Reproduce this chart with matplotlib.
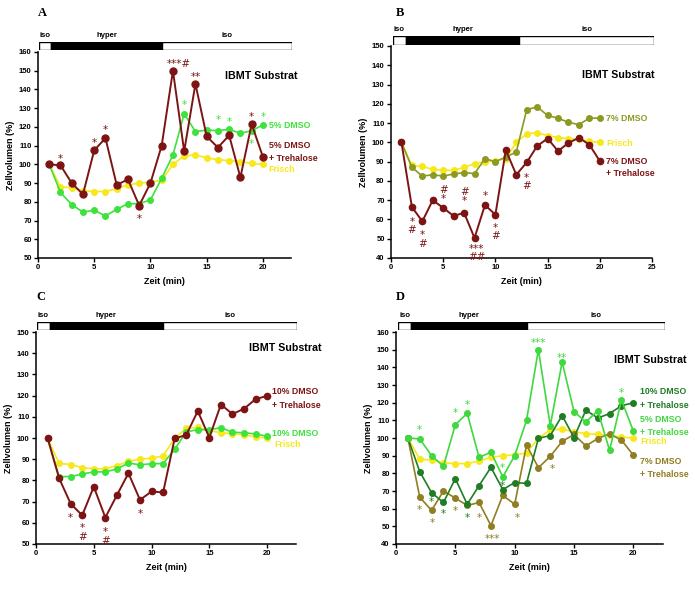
import numpy as np
import matplotlib
matplotlib.use("Agg")
import matplotlib.pyplot as plt
from matplotlib.patches import Rectangle

plt.rcParams["font.family"] = ["Liberation Sans", "DejaVu Sans"]
plt.rcParams["font.weight"] = "bold"

W, H = 695, 594

# --- data (Zellvolumen in % of start, per minute) ---
zeit = np.arange(1, 21)
frisch = [100, 88, 87.5, 86, 85.5, 85.5, 87, 89, 90, 90.5,
          91.5, 100, 104.5, 105, 103.5, 102.5, 102, 101.5, 100.5, 100]
dmso5 = [100, 85, 78.5, 74.5, 75.5, 72.5, 76, 79, 79, 81,
         92.5, 105, 127, 117.5, 118.3, 118, 118.7, 116.6, 118, 121]
dmso5_treh = [100, 99.5, 90, 84, 107.5, 114, 89, 92, 78, 90,
              110, 150, 107, 143, 115, 109, 115.5, 93, 121.5, 104]
dmso7 = [100, 87, 82.5, 83.2, 82.5, 83.6, 84.3, 83.8, 91.5, 90,
         92.4, 95, 117, 118.4, 114, 112.5, 110.4, 109.2, 112.6, 112.6]
dmso7_treh = [100, 66.5, 59, 70, 66, 61.8, 63.5, 50.4, 67.5, 62.5,
              96, 83.2, 89.6, 98.1, 102, 95.5, 99.7, 102.4, 98.8, 90.3]
dmso10 = [100, 81.8, 81.8, 83, 84, 84, 85.4, 88.2, 87.3, 87.9,
          87.9, 94.7, 102.8, 104, 103.8, 104.9, 102.7, 102.5, 101.9, 100.8]
dmso10_treh = [100, 81, 69, 63.5, 77, 62.5, 73, 83.4, 70.8, 74.8,
               74.3, 99.8, 101.4, 112.7, 100.2, 115.8, 111.3, 113.8, 118.3, 119.9]

# phases of the medium (min)
phase_edges = [0, 1.1, 10.9, 22.5]
phase_names = ["iso", "hyper", "iso"]

# significance marks: (x, y, text)
stars_a_red = [(2, 104, "*"), (5, 112.5, "*"), (6, 119.5, "*"), (9, 72, "*"),
               (12.5, 154.5, "***#"), (14, 147.5, "**"), (19, 126.5, "*")]
stars_a_green = [(13, 132.5, "*"), (16, 124.5, "*"), (17, 123.5, "*"),
                 (19, 112, "*"), (20, 126.5, "*")]
stars_b_red = [(2, 57.5, "*\n#"), (3, 50.5, "*\n#"), (5, 74, "#\n*"),
               (7, 73, "#\n*"), (8.2, 43.5, "***\n##"), (9, 73, "*"),
               (10, 54.5, "*\n#"), (13, 80.5, "*\n#")]
stars_c_red = [(3, 63.5, "*"), (4, 56.5, "*\n#"), (6, 54.5, "*\n#"),
               (9, 65, "*")]
stars_d_light = [(2, 105.5, "*"), (5, 115, "*"), (6, 119.5, "*"), (9, 84, "*"),
                 (12, 154.5, "***"), (14, 146.5, "**"), (19, 126.5, "*")]
stars_d_dark = [(3, 65, "*"), (4, 58, "*"), (6, 56, "*"), (9, 74, "*")]
stars_d_olive = [(2, 60.5, "*"), (3.1, 53, "*"), (5, 59.5, "*"), (7, 56, "*"),
                 (8.1, 44, "***"), (10.2, 56, "*"), (13.2, 83.5, "*")]

RED = "#7d1414"
GREEN = "#3de23d"
LGREEN = "#3fd83f"
DGREEN = "#1f7d24"
YELLOW = "#f7e81c"
OLIVE = "#8c9a22"
OLIVE_D = "#8f7f22"

fig = plt.figure(figsize=(W / 100, H / 100), dpi=100)


def box(x0, y0, x1, y1):
    return [x0 / W, 1 - y1 / H, (x1 - x0) / W, (y1 - y0) / H]


def make_panel(rect, bar_rect, letter, letter_xy, ylim, yticks, xlim, xticks):
    ax = fig.add_axes(box(*rect))
    ax.set_xlim(*xlim)
    ax.set_ylim(*ylim)
    ax.set_yticks(yticks)
    ax.set_xticks(xticks)
    for s in ["top", "right"]:
        ax.spines[s].set_visible(False)
    for s in ["left", "bottom"]:
        ax.spines[s].set_linewidth(1.1)
    ax.tick_params(length=3, width=1, labelsize=5.5, pad=1.5)
    for lab in ax.get_xticklabels() + ax.get_yticklabels():
        lab.set_fontweight("bold")
    ax.set_xlabel("Zeit (min)", fontsize=6.5, fontweight="bold", labelpad=4)
    ax.set_ylabel("Zellvolumen (%)", fontsize=6.5, fontweight="bold", labelpad=3)

    bar = fig.add_axes(box(*bar_rect))
    bar.set_xlim(0, 22.5)
    bar.set_ylim(0, 1)
    bar.axis("off")
    for i, name in enumerate(phase_names):
        a, b = phase_edges[i], phase_edges[i + 1]
        bar.add_patch(Rectangle((a, 0), b - a, 1,
                                facecolor="black" if name == "hyper" else "white",
                                edgecolor="black", lw=1))
        bar.text((a + b) / 2 if name != "iso" or i else 0.55, 1.35, name,
                 ha="center", va="bottom", fontsize=5.5, fontweight="bold")
    fig.text(letter_xy[0] / W, 1 - letter_xy[1] / H, letter,
             family="Liberation Serif", fontsize=9, fontweight="bold",
             ha="left", va="center")
    return ax


def series(ax, y, color, ms, lw, z):
    ax.plot(zeit, y, color=color, marker="o", ms=ms, lw=lw, zorder=z,
            clip_on=False)


def marks(ax, items, color, size=7.5):
    for x, y, t in items:
        ax.text(x, y - 1, t, color=color, ha="center", va="center",
                fontsize=size, fontweight="normal", family="DejaVu Sans",
                linespacing=0.8)


def label(ax, x, y, t, color, size=6.3):
    ax.text(x, y, t, color=color, ha="left", va="center", fontsize=size,
            fontweight="bold", clip_on=False)


# ---------- A ----------
ax = make_panel((38, 52, 291, 258), (39, 42, 292, 50), "A", (38, 13),
                (50, 160), range(50, 161, 10), (0, 22.5), range(0, 21, 5))
series(ax, frisch, YELLOW, 4, 1.2, 2)
series(ax, dmso5, GREEN, 4, 1.2, 3)
series(ax, dmso5_treh, RED, 5, 1.4, 4)
marks(ax, stars_a_red, RED)
marks(ax, stars_a_green, GREEN)
ax.text(16.6, 147, "IBMT Substrat", fontsize=7.7, fontweight="bold", va="center")
label(ax, 20.5, 121, "5% DMSO", GREEN)
label(ax, 20.5, 110, "5% DMSO", RED)
label(ax, 20.5, 103.2, "+ Trehalose", RED)
label(ax, 20.5, 97.5, "Frisch", YELLOW)

# ---------- B ----------
ax = make_panel((391, 46, 652, 258), (393, 36, 654, 45), "B", (396, 13),
                (40, 150), range(40, 151, 10), (0, 25), range(0, 26, 5))
series(ax, frisch, YELLOW, 4, 1.2, 2)
series(ax, dmso7, OLIVE, 4, 1.2, 3)
series(ax, dmso7_treh, RED, 4.5, 1.4, 4)
marks(ax, stars_b_red, RED)
ax.text(18.3, 135, "IBMT Substrat", fontsize=7.7, fontweight="bold", va="center")
label(ax, 20.6, 112.6, "7% DMSO", OLIVE)
label(ax, 20.6, 99.3, "Frisch", YELLOW)
label(ax, 20.6, 90.3, "7% DMSO", RED)
label(ax, 20.6, 83.8, "+ Trehalose", RED)

# ---------- C ----------
ax = make_panel((36, 332, 296, 544), (37, 322, 297, 330), "C", (36, 297),
                (50, 150), range(50, 151, 10), (0, 22.5), range(0, 21, 5))
series(ax, frisch, YELLOW, 4, 1.2, 2)
series(ax, dmso10, GREEN, 4, 1.2, 3)
series(ax, dmso10_treh, RED, 4.5, 1.4, 4)
marks(ax, stars_c_red, RED)
ax.text(18.4, 142.6, "IBMT Substrat", fontsize=7.7, fontweight="bold", va="center")
label(ax, 20.4, 121.8, "10% DMSO", RED)
label(ax, 20.4, 115.5, "+ Trehalose", RED)
label(ax, 20.4, 101.9, "10% DMSO", GREEN)
label(ax, 20.6, 96.7, "Frisch", YELLOW)

# ---------- D ----------
ax = make_panel((396, 332, 663, 544), (398, 322, 665, 330), "D", (396, 297),
                (40, 160), range(40, 161, 10), (0, 22.5), range(0, 21, 5))
series(ax, frisch, YELLOW, 4, 1.2, 2)
series(ax, dmso7_treh, OLIVE_D, 4, 1.2, 3)
series(ax, dmso10_treh, DGREEN, 4, 1.2, 4)
series(ax, dmso5_treh, LGREEN, 4, 1.2, 5)
marks(ax, stars_d_light, LGREEN)
marks(ax, stars_d_dark, DGREEN)
marks(ax, stars_d_olive, OLIVE_D)
ax.text(18.4, 144, "IBMT Substrat", fontsize=7.7, fontweight="bold", va="center")
label(ax, 20.6, 126.1, "10% DMSO", DGREEN)
label(ax, 20.6, 118.6, "+ Trehalose", DGREEN)
label(ax, 20.6, 110.7, "5% DMSO", LGREEN)
label(ax, 20.6, 103.2, "+ Trehalose", LGREEN)
label(ax, 20.6, 97.9, "Frisch", YELLOW)
label(ax, 20.6, 86.6, "7% DMSO", OLIVE_D)
label(ax, 20.6, 79.1, "+ Trehalose", OLIVE_D)

fig.savefig("out.png", dpi=100, facecolor="white")
